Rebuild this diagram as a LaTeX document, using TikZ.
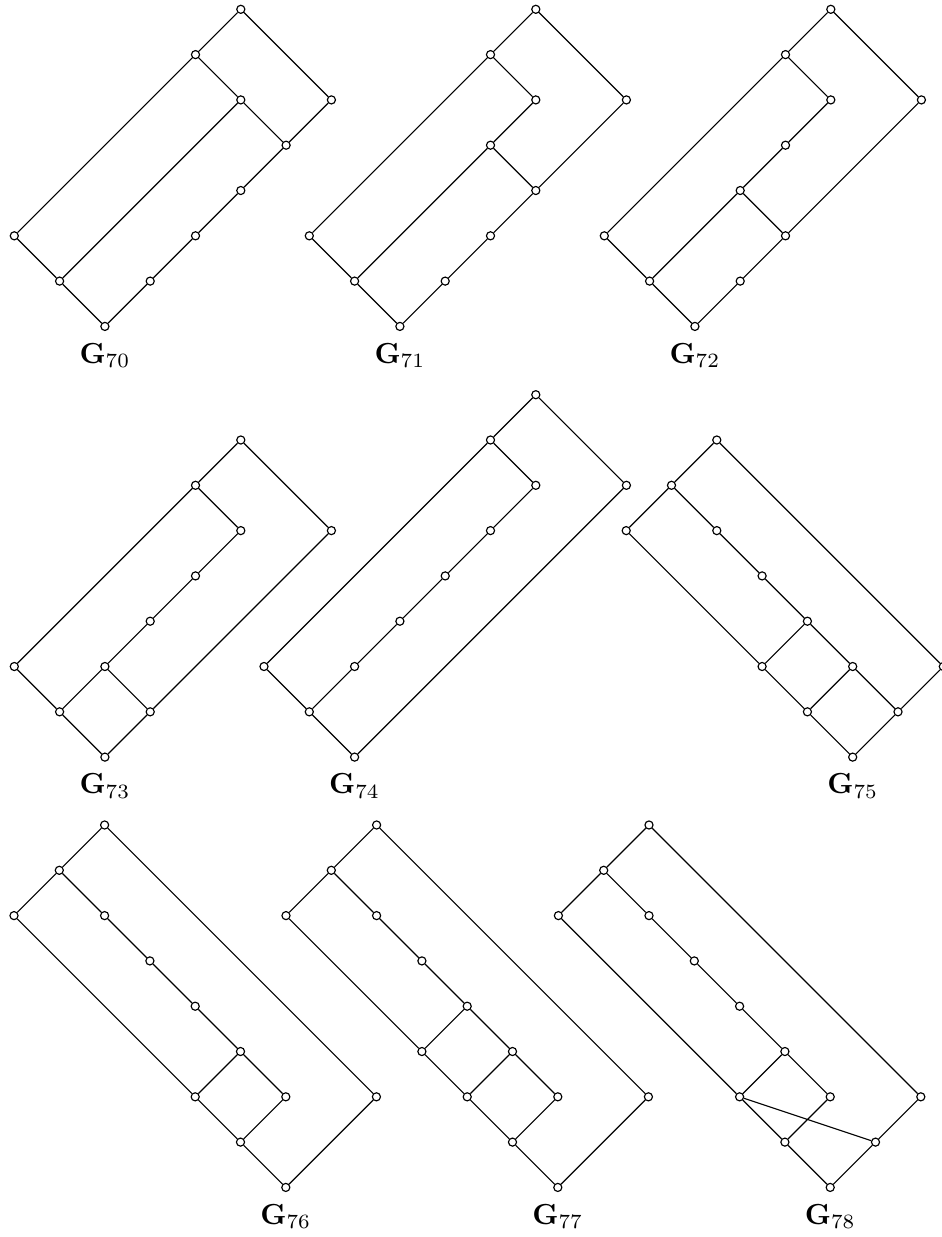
\documentclass[tikz,border=0pt]{standalone}
\newcommand{\gv}[3]{\node[vtx] (#1) at (#2,#3) {};}
\newcommand{\glbl}[2]{\node[lbl] (L#1) at ([yshift=-12.65pt]#2.center) {$\mathbf{G}_{#1}$};}
\begin{document}
\begin{tikzpicture}[x=0.3448pt,y=-0.3448pt,
  vtx/.style={circle,draw=black,fill=white,inner sep=0pt,minimum size=2.8pt,line width=0.4pt},
  lbl/.style={anchor=base,inner sep=0pt},
  every path/.style={line width=0.4pt}]
\useasboundingbox (0,0) rectangle (941,1237);
\def\u{15.62pt}
% G70
\begin{scope}[shift={(14.3,9.3)},x=\u,y=-\u]
\gv{a1}{5}{0}\gv{a2}{4}{1}\gv{a3}{5}{2}\gv{a4}{7}{2}\gv{a5}{6}{3}\gv{a6}{5}{4}
\gv{a7}{4}{5}\gv{a8}{3}{6}\gv{a9}{0}{5}\gv{a10}{1}{6}\gv{a11}{2}{7}
\draw (a1)--(a2) (a1)--(a4) (a2)--(a9) (a2)--(a3) (a3)--(a5) (a3)--(a10) (a4)--(a5)
  (a5)--(a6) (a6)--(a7) (a7)--(a8) (a8)--(a11) (a9)--(a10) (a10)--(a11);
\glbl{70}{a11}
\end{scope}
% G71
\begin{scope}[shift={(309.3,9.3)},x=\u,y=-\u]
\gv{b1}{5}{0}\gv{b2}{4}{1}\gv{b3}{5}{2}\gv{b4}{7}{2}\gv{b5}{4}{3}\gv{b6}{5}{4}
\gv{b7}{4}{5}\gv{b8}{3}{6}\gv{b9}{0}{5}\gv{b10}{1}{6}\gv{b11}{2}{7}
\draw (b1)--(b2) (b1)--(b4) (b2)--(b9) (b2)--(b3) (b3)--(b5) (b5)--(b10) (b5)--(b6)
  (b4)--(b6) (b6)--(b7) (b7)--(b8) (b8)--(b11) (b9)--(b10) (b10)--(b11);
\glbl{71}{b11}
\end{scope}
% G72
\begin{scope}[shift={(604.3,9.3)},x=\u,y=-\u]
\gv{c1}{5}{0}\gv{c2}{4}{1}\gv{c3}{5}{2}\gv{c4}{7}{2}\gv{c5}{4}{3}\gv{c6}{3}{4}
\gv{c7}{4}{5}\gv{c8}{3}{6}\gv{c9}{0}{5}\gv{c10}{1}{6}\gv{c11}{2}{7}
\draw (c1)--(c2) (c1)--(c4) (c2)--(c9) (c2)--(c3) (c3)--(c5) (c5)--(c6) (c6)--(c10)
  (c6)--(c7) (c4)--(c7) (c7)--(c8) (c8)--(c11) (c9)--(c10) (c10)--(c11);
\glbl{72}{c11}
\end{scope}
% G73
\begin{scope}[shift={(14.3,440)},x=\u,y=-\u]
\gv{d1}{5}{0}\gv{d2}{4}{1}\gv{d3}{5}{2}\gv{d4}{7}{2}\gv{d5}{4}{3}\gv{d6}{3}{4}
\gv{d7}{2}{5}\gv{d8}{3}{6}\gv{d9}{0}{5}\gv{d10}{1}{6}\gv{d11}{2}{7}
\draw (d1)--(d2) (d1)--(d4) (d2)--(d9) (d2)--(d3) (d3)--(d5) (d5)--(d6) (d6)--(d7)
  (d7)--(d10) (d7)--(d8) (d4)--(d8) (d8)--(d11) (d9)--(d10) (d10)--(d11);
\glbl{73}{d11}
\end{scope}
% G74
\begin{scope}[shift={(309.3,394.7)},x=\u,y=-\u]
\gv{e1}{5}{0}\gv{e2}{4}{1}\gv{e3}{5}{2}\gv{e4}{7}{2}\gv{e5}{4}{3}\gv{e6}{3}{4}
\gv{e7}{2}{5}\gv{e8}{1}{6}\gv{e9}{-1}{6}\gv{e10}{0}{7}\gv{e11}{1}{8}
\draw (e1)--(e2) (e1)--(e4) (e2)--(e3) (e2)--(e9) (e3)--(e5) (e5)--(e6) (e6)--(e7)
  (e7)--(e8) (e8)--(e10) (e9)--(e10) (e10)--(e11) (e4)--(e11);
\glbl{74}{e11}
\end{scope}
% G75
\begin{scope}[shift={(626.2,440)},x=\u,y=-\u]
\gv{f1}{2}{0}\gv{f2}{1}{1}\gv{f3}{0}{2}\gv{f4}{2}{2}\gv{f5}{3}{3}\gv{f6}{4}{4}
\gv{f7}{3}{5}\gv{f8}{5}{5}\gv{f9}{7}{5}\gv{f10}{4}{6}\gv{f11}{6}{6}\gv{f12}{5}{7}
\draw (f1)--(f2) (f1)--(f9) (f2)--(f3) (f2)--(f4) (f4)--(f5) (f5)--(f6) (f3)--(f7)
  (f6)--(f7) (f6)--(f8) (f7)--(f10) (f8)--(f10) (f8)--(f11) (f10)--(f12) (f11)--(f12)
  (f9)--(f11);
\glbl{75}{f12}
\end{scope}
% G76
\begin{scope}[shift={(14,825)},x=\u,y=-\u]
\gv{g1}{2}{0}\gv{g2}{1}{1}\gv{g3}{0}{2}\gv{g4}{2}{2}\gv{g5}{3}{3}\gv{g6}{4}{4}
\gv{g7}{5}{5}\gv{g8}{4}{6}\gv{g9}{6}{6}\gv{g10}{8}{6}\gv{g11}{5}{7}\gv{g12}{6}{8}
\draw (g1)--(g2) (g1)--(g10) (g2)--(g3) (g2)--(g4) (g4)--(g5) (g5)--(g6) (g6)--(g7)
  (g3)--(g8) (g7)--(g8) (g7)--(g9) (g8)--(g11) (g9)--(g11) (g11)--(g12) (g10)--(g12);
\glbl{76}{g12}
\end{scope}
% G77
\begin{scope}[shift={(286,825)},x=\u,y=-\u]
\gv{h1}{2}{0}\gv{h2}{1}{1}\gv{h3}{0}{2}\gv{h4}{2}{2}\gv{h5}{3}{3}\gv{h6}{4}{4}
\gv{h7}{3}{5}\gv{h8}{5}{5}\gv{h9}{4}{6}\gv{h10}{6}{6}\gv{h11}{8}{6}\gv{h12}{5}{7}\gv{h13}{6}{8}
\draw (h1)--(h2) (h1)--(h11) (h2)--(h3) (h2)--(h4) (h4)--(h5) (h5)--(h6) (h3)--(h7)
  (h6)--(h7) (h6)--(h8) (h7)--(h9) (h8)--(h9) (h8)--(h10) (h9)--(h12) (h10)--(h12)
  (h12)--(h13) (h11)--(h13);
\glbl{77}{h13}
\end{scope}
% G78
\begin{scope}[shift={(558.4,825)},x=\u,y=-\u]
\gv{k1}{2}{0}\gv{k2}{1}{1}\gv{k3}{0}{2}\gv{k4}{2}{2}\gv{k5}{3}{3}\gv{k6}{4}{4}
\gv{k7}{5}{5}\gv{k8}{4}{6}\gv{k9}{6}{6}\gv{k10}{8}{6}\gv{k11}{5}{7}\gv{k12}{7}{7}\gv{k13}{6}{8}
\draw (k1)--(k2) (k1)--(k10) (k2)--(k3) (k2)--(k4) (k4)--(k5) (k5)--(k6) (k6)--(k7)
  (k3)--(k8) (k7)--(k8) (k7)--(k9) (k8)--(k11) (k8)--(k12) (k9)--(k11) (k11)--(k13)
  (k12)--(k13) (k10)--(k12);
\glbl{78}{k13}
\end{scope}
\end{tikzpicture}
\end{document}
